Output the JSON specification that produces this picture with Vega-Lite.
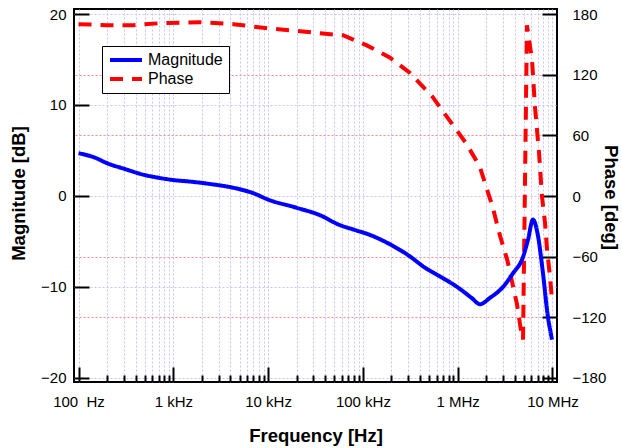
{
  "$schema": "https://vega.github.io/schema/vega-lite/v6.json",
  "autosize": {"type": "none"},
  "width": 483,
  "height": 373,
  "padding": {"left": 74, "top": 9, "right": 65, "bottom": 66},
  "background": "white",
  "config": {
    "font": "Liberation Sans",
    "view": {"stroke": "black", "strokeWidth": 2},
    "axis": {"domain": false, "tickColor": "black", "labelColor": "black", "titleColor": "black", "labelFontSize": 15, "titleFontSize": 18.5, "titleFontWeight": "bold", "labelFont": "Liberation Sans", "titleFont": "Liberation Sans"}
  },
  "data": {
    "values": [
      {"series": "Magnitude", "f": 100, "v": 4.7},
      {"series": "Magnitude", "f": 150, "v": 4.2},
      {"series": "Magnitude", "f": 200, "v": 3.6},
      {"series": "Magnitude", "f": 300, "v": 3.0},
      {"series": "Magnitude", "f": 500, "v": 2.3},
      {"series": "Magnitude", "f": 700, "v": 2.0},
      {"series": "Magnitude", "f": 1000, "v": 1.75},
      {"series": "Magnitude", "f": 1600, "v": 1.55},
      {"series": "Magnitude", "f": 2500, "v": 1.3},
      {"series": "Magnitude", "f": 4300, "v": 0.9},
      {"series": "Magnitude", "f": 7000, "v": 0.3},
      {"series": "Magnitude", "f": 10000, "v": -0.4},
      {"series": "Magnitude", "f": 20000, "v": -1.3},
      {"series": "Magnitude", "f": 35000, "v": -2.1},
      {"series": "Magnitude", "f": 57000, "v": -3.2},
      {"series": "Magnitude", "f": 80000, "v": -3.7},
      {"series": "Magnitude", "f": 120000, "v": -4.3},
      {"series": "Magnitude", "f": 200000, "v": -5.4},
      {"series": "Magnitude", "f": 290000, "v": -6.4},
      {"series": "Magnitude", "f": 470000, "v": -8.0},
      {"series": "Magnitude", "f": 640000, "v": -8.8},
      {"series": "Magnitude", "f": 1050000, "v": -10.2},
      {"series": "Magnitude", "f": 1400000, "v": -11.2},
      {"series": "Magnitude", "f": 1720000, "v": -11.9},
      {"series": "Magnitude", "f": 2190000, "v": -11.2},
      {"series": "Magnitude", "f": 3010000, "v": -10.0},
      {"series": "Magnitude", "f": 3830000, "v": -8.5},
      {"series": "Magnitude", "f": 4890000, "v": -6.7},
      {"series": "Magnitude", "f": 5520000, "v": -4.8},
      {"series": "Magnitude", "f": 6220000, "v": -2.6},
      {"series": "Magnitude", "f": 6950000, "v": -4.1},
      {"series": "Magnitude", "f": 7940000, "v": -8.5},
      {"series": "Magnitude", "f": 8850000, "v": -12.9},
      {"series": "Magnitude", "f": 9890000, "v": -15.8},
      {"series": "Phase", "f": 100, "v": 170},
      {"series": "Phase", "f": 200, "v": 169},
      {"series": "Phase", "f": 380, "v": 169},
      {"series": "Phase", "f": 730, "v": 171},
      {"series": "Phase", "f": 1900, "v": 172},
      {"series": "Phase", "f": 4300, "v": 170},
      {"series": "Phase", "f": 9800, "v": 166},
      {"series": "Phase", "f": 21700, "v": 163},
      {"series": "Phase", "f": 35000, "v": 161},
      {"series": "Phase", "f": 61600, "v": 159},
      {"series": "Phase", "f": 110000, "v": 149},
      {"series": "Phase", "f": 192000, "v": 137},
      {"series": "Phase", "f": 312000, "v": 122},
      {"series": "Phase", "f": 544000, "v": 98},
      {"series": "Phase", "f": 817000, "v": 75},
      {"series": "Phase", "f": 1230000, "v": 52},
      {"series": "Phase", "f": 1710000, "v": 29},
      {"series": "Phase", "f": 2340000, "v": -11},
      {"series": "Phase", "f": 2770000, "v": -38},
      {"series": "Phase", "f": 3350000, "v": -64},
      {"series": "Phase", "f": 4220000, "v": -107},
      {"series": "Phase", "f": 4650000, "v": -133},
      {"series": "Phase", "f": 4890000, "v": -142},
      {"series": "Phase", "f": 5380000, "v": 169},
      {"series": "Phase", "f": 6080000, "v": 135},
      {"series": "Phase", "f": 6540000, "v": 88},
      {"series": "Phase", "f": 7210000, "v": 43},
      {"series": "Phase", "f": 7760000, "v": -1},
      {"series": "Phase", "f": 8350000, "v": -27},
      {"series": "Phase", "f": 8760000, "v": -53},
      {"series": "Phase", "f": 9420000, "v": -80},
      {"series": "Phase", "f": 9890000, "v": -103}
    ]
  },
  "encoding": {
    "x": {
      "field": "f", "type": "quantitative",
      "scale": {"type": "log", "domain": [89.6, 11160000], "nice": false},
      "axis": {
        "orient": "bottom",
        "title": "Frequency [Hz]",
        "titleX": 241.5, "titleY": 53, "titleBaseline": "middle", "titleAlign": "center",
        "values": [100,200,300,400,500,600,700,800,900,1000,2000,3000,4000,5000,6000,7000,8000,9000,10000,20000,30000,40000,50000,60000,70000,80000,90000,100000,200000,300000,400000,500000,600000,700000,800000,900000,1000000,2000000,3000000,4000000,5000000,6000000,7000000,8000000,9000000,10000000],
        "labelExpr": "datum.value == 100 ? '100\u00a0 Hz' : datum.value == 1000 ? '1 kHz' : datum.value == 10000 ? '10 kHz' : datum.value == 100000 ? '100 kHz' : datum.value == 1000000 ? '1 MHz' : datum.value == 10000000 ? '10 MHz' : ''",
        "labelPadding": 27,
        "labelFlush": false,
        "labelOverlap": false,
        "tickSize": {"condition": {"test": "indexof([100,1000,10000,100000,1000000,10000000], datum.value) >= 0", "value": -15}, "value": -7},
        "tickWidth": 2,
        "grid": true, "gridColor": "#c4c4ff", "gridDash": [2, 2], "gridWidth": 1
      }
    },
    "color": {
      "field": "series", "type": "nominal",
      "scale": {"domain": ["Magnitude", "Phase"], "range": ["#0000ff", "#ff0000"]},
      "legend": {
        "orient": "none", "legendX": 28, "legendY": 37, "title": null,
        "strokeColor": "black", "fillColor": "white", "padding": 6,
        "symbolType": "stroke", "symbolSize": 1024, "symbolStrokeWidth": 4,
        "labelFontSize": 16, "labelFont": "Liberation Sans", "labelColor": "black", "labelOffset": 4, "rowPadding": 3, "clipHeight": 16
      }
    },
    "strokeDash": {
      "field": "series", "type": "nominal",
      "scale": {"domain": ["Magnitude", "Phase"], "range": [[1, 0], [13, 9]]},
      "legend": {
        "orient": "none", "legendX": 28, "legendY": 37, "title": null,
        "strokeColor": "black", "fillColor": "white", "padding": 6,
        "symbolType": "stroke", "symbolSize": 1024, "symbolStrokeWidth": 4,
        "labelFontSize": 16, "labelFont": "Liberation Sans", "labelColor": "black", "labelOffset": 4, "rowPadding": 3, "clipHeight": 16
      }
    }
  },
  "layer": [
    {
      "transform": [{"filter": "datum.series == 'Phase'"}],
      "mark": {"type": "line", "strokeWidth": 4, "clip": true},
      "encoding": {
        "y": {
          "field": "v", "type": "quantitative",
          "scale": {"domain": [-184, 185], "nice": false, "zero": false},
          "axis": {
            "orient": "right", "title": "Phase [deg]",
            "titleX": 53, "titleY": 188, "titleAngle": 90, "titleBaseline": "middle", "titleAlign": "center",
            "values": [-180, -120, -60, 0, 60, 120, 180],
            "tickSize": -15, "tickWidth": 2, "labelPadding": 30,
            "grid": true, "gridColor": "#ff8c8c", "gridDash": [2, 2], "gridWidth": 1,
            "gridOpacity": {"condition": {"test": "datum.value == 0 || abs(datum.value) == 180", "value": 0}, "value": 1}
          }
        }
      }
    },
    {
      "transform": [{"filter": "datum.series == 'Magnitude'"}],
      "mark": {"type": "line", "strokeWidth": 4, "clip": true, "interpolate": "monotone"},
      "encoding": {
        "y": {
          "field": "v", "type": "quantitative",
          "scale": {"domain": [-20.45, 20.55], "nice": false, "zero": false},
          "axis": {
            "orient": "left", "title": "Magnitude [dB]",
            "titleX": -56, "titleY": 184, "titleAngle": -90, "titleBaseline": "middle", "titleAlign": "center",
            "values": [-20, -10, 0, 10, 20],
            "tickSize": -15, "tickWidth": 2, "labelPadding": 23,
            "grid": true, "gridColor": "#c4c4ff", "gridDash": [2, 2], "gridWidth": 1
          }
        }
      }
    }
  ],
  "resolve": {"scale": {"y": "independent"}}
}
